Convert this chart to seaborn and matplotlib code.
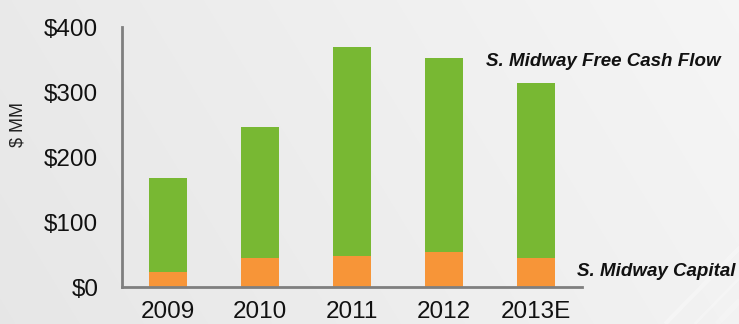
import numpy as np
import pandas as pd
import matplotlib
matplotlib.use("Agg")
import matplotlib.pyplot as plt
import seaborn as sns

years = ["2009", "2010", "2011", "2012", "2013E"]
free_cash_flow_total = [168, 246, 370, 352, 314]
capital = [23, 45, 48, 55, 45]
y_ticks = [0, 100, 200, 300, 400]
y_tick_labels = ["$0", "$100", "$200", "$300", "$400"]

GREEN = "#78b833"
ORANGE = "#f79538"
AXIS = "#7f7f7f"

sns.set_theme(style="white")
plt.rcParams["font.family"] = ["Liberation Sans", "DejaVu Sans"]

fig = plt.figure(figsize=(7.39, 3.24), dpi=100)

# soft gray slide background
bg = fig.add_axes([0, 0, 1, 1], zorder=-10)
gx = np.linspace(0, 1, 400)
gy = np.linspace(0, 1, 200)
X, Y = np.meshgrid(gx, gy)
shade = 0.905 + 0.045 * X + 0.012 * (1 - Y)
shade = np.clip(shade, 0, 1)
bg.imshow(np.dstack([shade, shade, shade]), aspect="auto", extent=[0, 1, 0, 1],
          origin="upper", interpolation="bilinear")
# faint diagonal sheen in the lower right corner
for x0, lw, a in [(0.90, 3, 0.3), (0.94, 2, 0.25), (0.97, 4, 0.2)]:
    bg.plot([x0, x0 + 0.12], [0.0, 0.28], color="white", lw=lw, alpha=a,
            solid_capstyle="butt")
bg.set_xlim(0, 1)
bg.set_ylim(0, 1)
bg.set_axis_off()

ax = fig.add_axes([0.165, 0.113, 0.6225, 0.803])
ax.patch.set_alpha(0)

df = pd.DataFrame({"year": years, "total": free_cash_flow_total, "capital": capital})
sns.barplot(data=df, x="year", y="total", color=GREEN, width=0.41,
            saturation=1, ax=ax, edgecolor="none")
sns.barplot(data=df, x="year", y="capital", color=ORANGE, width=0.41,
            saturation=1, ax=ax, edgecolor="none")

ax.set_xlim(-0.5, len(years) - 0.5)
ax.set_ylim(0, 400)
ax.set_xlabel("")
ax.set_ylabel("")
fig.text(0.025, 1 - 125 / 324, "$ MM", rotation=90, fontsize=13,
         color="#222222", ha="center", va="center")

ax.set_yticks(y_ticks)
ax.set_yticklabels(y_tick_labels, fontsize=17.5, color="#111111")
ax.set_xticks(range(len(years)))
ax.set_xticklabels(years, fontsize=17.5, color="#111111")
ax.tick_params(axis="x", which="major", length=0, pad=10)
ax.set_xticks(np.arange(-0.5, len(years)), minor=True)
ax.tick_params(axis="x", which="minor", length=5, width=2, color=AXIS, direction="out")
ax.tick_params(axis="y", which="major", length=6, width=1.5, color=AXIS,
               direction="out", pad=11)

for side in ["top", "right"]:
    ax.spines[side].set_visible(False)
for side in ["left", "bottom"]:
    ax.spines[side].set_color(AXIS)
    ax.spines[side].set_linewidth(2)

fig.text(0.657, 1 - 61 / 324, "S. Midway Free Cash Flow", fontsize=13.5,
         fontweight="bold", fontstyle="italic", color="#111111", va="center")
fig.text(0.781, 1 - 272 / 324, "S. Midway Capital", fontsize=13.5,
         fontweight="bold", fontstyle="italic", color="#111111", va="center")

fig.savefig("out.png", dpi=100)
